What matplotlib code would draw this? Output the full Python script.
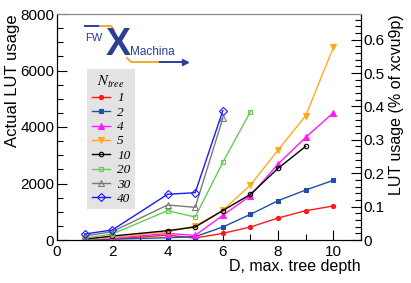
import matplotlib
matplotlib.use("Agg")
import matplotlib.pyplot as plt
from matplotlib.lines import Line2D
from matplotlib.ticker import MultipleLocator

plt.rcParams['font.family'] = ['Liberation Sans', 'DejaVu Sans']
plt.rcParams['mathtext.fontset'] = 'stix'

# LUT usage vs max tree depth, one series per number of trees
labels = ['1', '2', '4', '5', '10', '20', '30', '40']
depth_1 = [1, 2, 4, 5, 6, 7, 8, 9, 10]
lut_1 = [15, 40, 170, 70, 236, 460, 779, 1038, 1204]
depth_2 = [1, 2, 4, 5, 6, 7, 8, 9, 10]
lut_2 = [10, 30, 80, 118, 460, 908, 1392, 1770, 2113]
depth_4 = [1, 2, 4, 5, 6, 7, 8, 9, 10]
lut_4 = [20, 60, 230, 165, 873, 1569, 2690, 3635, 4506]
depth_5 = [1, 2, 4, 5, 6, 7, 8, 9, 10]
lut_5 = [25, 90, 285, 496, 1050, 1947, 3186, 4400, 6820]
depth_10 = [1, 2, 4, 5, 6, 7, 8, 9]
lut_10 = [30, 140, 330, 460, 1040, 1617, 2537, 3316]
depth_20 = [1, 2, 4, 5, 6, 7]
lut_20 = [70, 212, 1038, 814, 2749, 4543]
depth_30 = [1, 2, 4, 5, 6]
lut_30 = [142, 295, 1239, 1156, 4306]
depth_40 = [1, 2, 4, 5, 6]
lut_40 = [212, 354, 1617, 1675, 4578]

depths = [depth_1, depth_2, depth_4, depth_5, depth_10, depth_20, depth_30, depth_40]
luts = [lut_1, lut_2, lut_4, lut_5, lut_10, lut_20, lut_30, lut_40]
colors = ['#ff1a1a', '#1f4fa8', '#ff1aff', '#ffaa22', '#000000', '#66cc55', '#7a7a7a', '#1a1aff']
markers = ['o', 's', '^', 'v', 'o', 's', '^', 'D']
filled = [True, True, True, True, False, False, False, False]
msizes = [3, 3.2, 4, 4, 3.2, 3.4, 4, 3.6]

total_luts = 1182240  # xcvu9p

fig = plt.figure(figsize=(4.11, 2.83), dpi=100)
ax = fig.add_axes([57 / 411, 43 / 283, 304 / 411, 226 / 283])

for d, v, c, m, f, ms, lab in zip(depths, luts, colors, markers, filled, msizes, labels):
    ax.plot(d, v, color=c, marker=m, markersize=ms, linewidth=1.0,
            markerfacecolor=c if f else 'none', markeredgecolor=c,
            markeredgewidth=0.8, label=lab)

ax.set_xlim(0, 11)
ax.set_ylim(0, 8000)
ax.xaxis.set_major_locator(MultipleLocator(2))
ax.xaxis.set_minor_locator(MultipleLocator(1))
ax.yaxis.set_major_locator(MultipleLocator(2000))
ax.yaxis.set_minor_locator(MultipleLocator(500))
ax.tick_params(which='both', direction='in', labelsize=11, top=False, right=False)
ax.tick_params(which='major', length=7, width=0.8)
ax.tick_params(which='minor', length=4, width=0.8)
ax.tick_params(axis='y', pad=2)
ax.spines['top'].set_color('#888888')
ax.set_ylabel('Actual LUT usage', fontsize=12, loc='top', labelpad=0)
ax.set_xlabel('D, max. tree depth', fontsize=11.5, loc='right', labelpad=0)

ax2 = ax.twinx()
ax2.set_ylim(0, 8000 / total_luts * 100)
ax2.yaxis.set_major_locator(MultipleLocator(0.1))
ax2.yaxis.set_minor_locator(MultipleLocator(0.02))
ax2.tick_params(which='both', direction='in', labelsize=11, pad=2)
ax2.tick_params(which='major', length=7, width=0.8)
ax2.tick_params(which='minor', length=4, width=0.8)
ax2.set_yticks([0, 0.1, 0.2, 0.3, 0.4, 0.5, 0.6])
ax2.set_yticklabels(['0', '0.1', '0.2', '0.3', '0.4', '0.5', '0.6'])
ax2.spines['top'].set_color('#888888')
ax2.set_ylabel('LUT usage (% of xcvu9p)', fontsize=11.5, loc='top', labelpad=3)

leg = ax.legend(loc='upper left', bbox_to_anchor=(0.1, 0.755), frameon=True,
                fancybox=False, facecolor='#e3e3e3', edgecolor='none', framealpha=1,
                title='$N_{tree}$', handlelength=1.4, handletextpad=0.5,
                labelspacing=0.16, borderpad=0.35, borderaxespad=0,
                prop={'family': 'Liberation Serif', 'style': 'italic', 'size': 9.5})
leg.get_title().set_fontsize(10.5)

# FW X Machina logo
def px(x, y):
    return x / 411, 1 - y / 283

blue = '#2b3f94'
orange = '#f0a830'


def seg(xs, ys, color):
    fig.add_artist(Line2D([x / 411 for x in xs], [1 - y / 283 for y in ys], color=color, lw=1.4))


seg([85, 100], [26, 26], blue)
seg([100, 111, 114], [26, 26, 30], orange)
seg([127, 131, 160], [58, 62, 62], orange)
seg([160, 185], [62, 62], blue)
fig.add_artist(Line2D([px(185, 0)[0]], [px(0, 62)[1]], color=blue, marker='>', markersize=4, lw=0))
fig.text(*px(85, 38), 'FW', color=blue, fontsize=8, va='center', ha='left')
fig.text(*px(118, 45), 'X', color=blue, fontsize=27, fontweight='bold', va='center', ha='center')
fig.text(*px(130, 52), 'Machina', color=blue, fontsize=8.5, va='center', ha='left')

fig.savefig('out.png', dpi=100)
